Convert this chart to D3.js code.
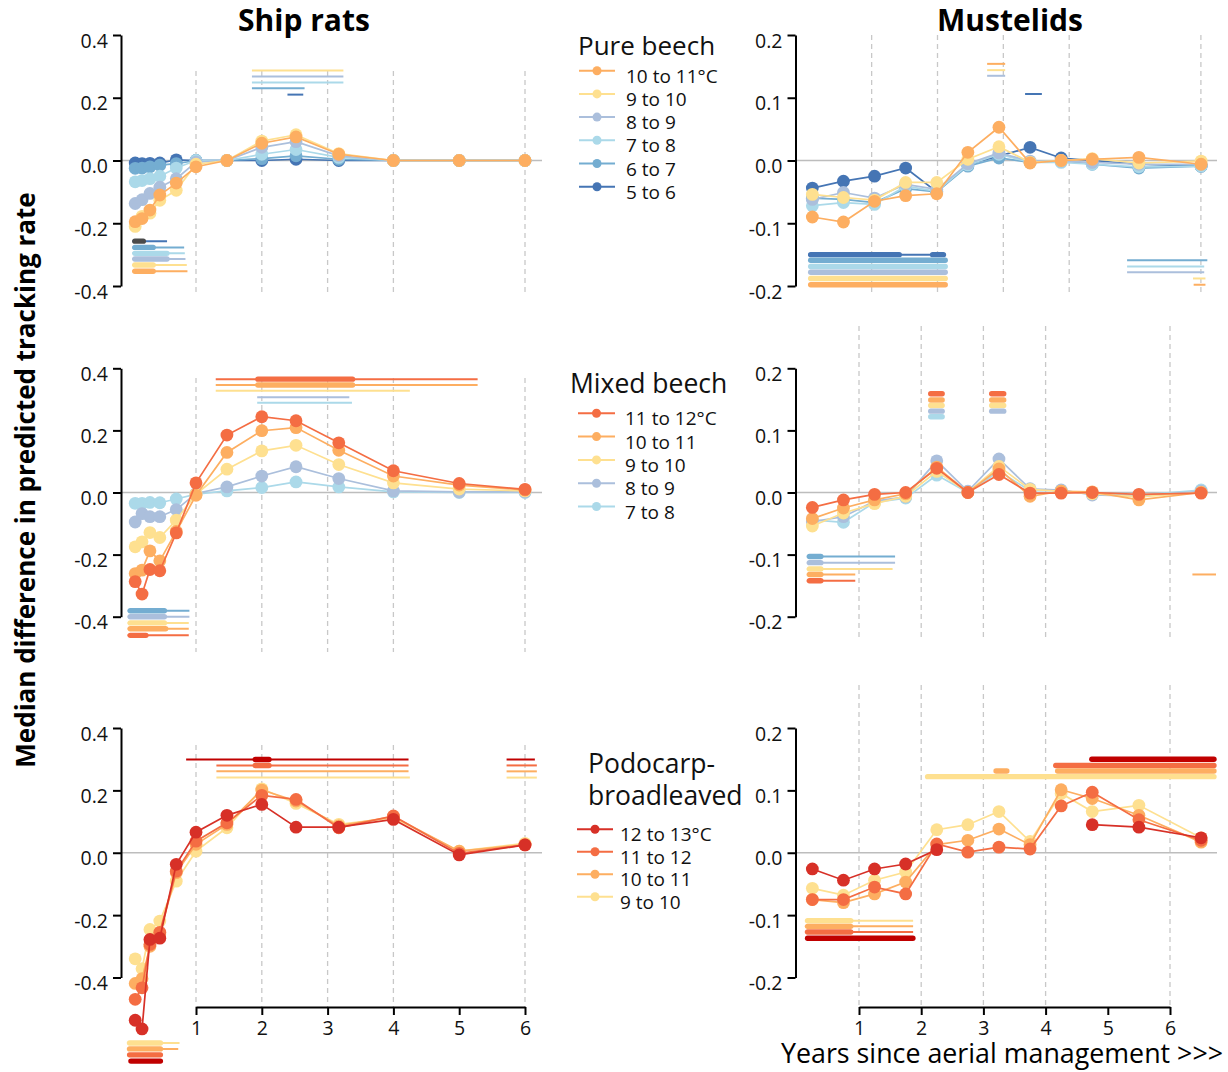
<!DOCTYPE html>
<html><head><meta charset="utf-8">
<script src="https://cdn.jsdelivr.net/npm/d3@7"></script>
<style>body{margin:0;background:#fff}</style></head>
<body><script>
// ---------------- DATA ----------------
const xLeft  = [0.076, 0.18, 0.30, 0.45, 0.70, 1.0, 1.47, 2.0, 2.52, 3.17, 4.0, 5.0, 6.0];
const xRight = [0.25, 0.75, 1.25, 1.75, 2.25, 2.75, 3.25, 3.75, 4.25, 4.75, 5.5, 6.5];
const xTickLabels = [1, 2, 3, 4, 5, 6];
const gridYears = [1, 2, 3, 4, 6];
const ratsTicks = [-0.4, -0.2, 0, 0.2, 0.4];
const mustTicks = [-0.2, -0.1, 0, 0.1, 0.2];

const colors = {
  "5 to 6": "#4575b4", "6 to 7": "#74add1", "7 to 8": "#abd9e9", "8 to 9": "#abbfdc",
  "9 to 10": "#fee090", "10 to 11": "#fdae61", "11 to 12": "#f46d43", "12 to 13": "#d73027",
  "dark": "#4a4a4a", "darkred": "#c00000"
};

const pureClasses  = ["5 to 6", "6 to 7", "7 to 8", "8 to 9", "9 to 10", "10 to 11"];
const mixedClasses = ["7 to 8", "8 to 9", "9 to 10", "10 to 11", "11 to 12"];
const podoClasses  = ["9 to 10", "10 to 11", "11 to 12", "12 to 13"];

// Ship rats - pure beech
const ratsPure = {
  "5 to 6":   [-0.008, -0.010, -0.009, -0.008, 0.002, 0.0, 0.0, 0.0, 0.004, 0.0, 0.0, 0.0, 0.0],
  "6 to 7":   [-0.025, -0.024, -0.020, -0.015, -0.010, 0.0, 0.0, 0.006, 0.015, 0.004, 0.0, 0.0, 0.0],
  "7 to 8":   [-0.068, -0.064, -0.058, -0.050, -0.024, 0.0, 0.0, 0.020, 0.035, 0.010, 0.0, 0.0, 0.0],
  "8 to 9":   [-0.137, -0.125, -0.105, -0.085, -0.058, -0.005, 0.0, 0.042, 0.060, 0.015, 0.0, 0.0, 0.0],
  "9 to 10":  [-0.210, -0.178, -0.168, -0.127, -0.095, -0.012, 0.0, 0.062, 0.082, 0.022, 0.0, 0.0, 0.0],
  "10 to 11": [-0.195, -0.185, -0.158, -0.110, -0.072, -0.020, 0.0, 0.055, 0.075, 0.020, 0.0, 0.0, 0.0]
};
// Ship rats - mixed beech
const ratsMixed = {
  "7 to 8":   [-0.035, -0.035, -0.032, -0.033, -0.021, -0.005, 0.005, 0.016, 0.034, 0.018, 0.002, 0.0, 0.0],
  "8 to 9":   [-0.095, -0.068, -0.078, -0.078, -0.055, -0.003, 0.018, 0.053, 0.083, 0.045, 0.005, 0.002, 0.002],
  "9 to 10":  [-0.175, -0.159, -0.129, -0.145, -0.089, -0.005, 0.075, 0.134, 0.152, 0.090, 0.031, 0.011, 0.005],
  "10 to 11": [-0.261, -0.250, -0.188, -0.220, -0.125, -0.009, 0.129, 0.199, 0.209, 0.136, 0.053, 0.024, 0.008],
  "11 to 12": [-0.287, -0.327, -0.248, -0.252, -0.130, 0.031, 0.185, 0.244, 0.231, 0.160, 0.070, 0.029, 0.010]
};
// Ship rats - podocarp-broadleaved
const ratsPodo = {
  "9 to 10":  [-0.340, -0.372, -0.246, -0.219, -0.091, 0.005, 0.080, 0.205, 0.158, 0.091, 0.112, 0.005, 0.030],
  "10 to 11": [-0.419, -0.404, -0.300, -0.260, -0.064, 0.027, 0.091, 0.201, 0.166, 0.086, 0.116, 0.005, 0.026],
  "11 to 12": [-0.470, -0.433, -0.294, -0.255, -0.059, 0.037, 0.096, 0.184, 0.171, 0.080, 0.118, -0.002, 0.025],
  "12 to 13": [-0.537, -0.565, -0.278, -0.274, -0.037, 0.066, 0.120, 0.155, 0.082, 0.082, 0.107, -0.007, 0.025]
};
// Mustelids - pure beech
const mustPure = {
  "5 to 6":   [-0.044, -0.033, -0.025, -0.012, -0.050, -0.006, 0.007, 0.021, 0.004, 0.0, -0.006, -0.009],
  "6 to 7":   [-0.060, -0.062, -0.067, -0.045, -0.050, -0.009, 0.004, -0.003, 0.0, -0.006, -0.012, -0.009],
  "7 to 8":   [-0.072, -0.067, -0.070, -0.041, -0.049, -0.007, 0.010, -0.003, -0.003, -0.006, -0.010, -0.009],
  "8 to 9":   [-0.062, -0.051, -0.060, -0.038, -0.046, -0.005, 0.012, -0.001, -0.001, -0.003, -0.006, -0.006],
  "9 to 10":  [-0.054, -0.059, -0.063, -0.035, -0.035, 0.002, 0.022, -0.003, 0.0, 0.003, -0.004, -0.001],
  "10 to 11": [-0.090, -0.098, -0.065, -0.056, -0.053, 0.013, 0.053, -0.004, 0.0, 0.002, 0.005, -0.006]
};
// Mustelids - mixed beech
const mustMixed = {
  "7 to 8":   [-0.044, -0.048, -0.016, -0.009, 0.028, 0.0, 0.034, 0.003, 0.003, -0.002, -0.004, 0.004],
  "8 to 9":   [-0.047, -0.039, -0.014, -0.007, 0.051, 0.002, 0.054, 0.006, 0.004, -0.004, -0.006, 0.002],
  "9 to 10":  [-0.054, -0.033, -0.018, -0.006, 0.034, 0.0, 0.042, 0.005, 0.002, -0.002, -0.007, 0.0],
  "10 to 11": [-0.042, -0.025, -0.012, -0.002, 0.041, 0.0, 0.038, -0.006, 0.002, 0.001, -0.012, 0.0],
  "11 to 12": [-0.024, -0.012, -0.003, 0.0, 0.039, 0.0, 0.029, -0.001, -0.001, 0.0, -0.003, -0.001]
};
// Mustelids - podocarp-broadleaved
const mustPodo = {
  "9 to 10":  [-0.057, -0.068, -0.044, -0.031, 0.037, 0.045, 0.066, 0.018, 0.095, 0.066, 0.076, 0.024],
  "10 to 11": [-0.075, -0.080, -0.066, -0.047, 0.013, 0.020, 0.038, 0.013, 0.101, 0.087, 0.060, 0.017],
  "11 to 12": [-0.075, -0.075, -0.055, -0.066, 0.014, 0.001, 0.009, 0.006, 0.075, 0.097, 0.053, 0.020],
  "12 to 13": [-0.026, -0.044, -0.026, -0.018, 0.005, null, null, null, null, 0.045, 0.041, 0.024]
};

// significance bars: [colour key, value, from year, to year, "thin"|"thick"]
const ratsPureBars = [
  ["9 to 10", 0.287, 1.85, 3.24, "thin"], ["8 to 9", 0.268, 1.85, 3.24, "thin"],
  ["7 to 8", 0.249, 1.85, 3.24, "thin"], ["6 to 7", 0.230, 1.85, 2.65, "thin"],
  ["5 to 6", 0.210, 2.39, 2.63, "thin"],
  ["5 to 6", -0.257, 0.03, 0.56, "thin"], ["dark", -0.257, 0.03, 0.24, "thick"],
  ["6 to 7", -0.277, 0.03, 0.82, "thin"], ["6 to 7", -0.277, 0.03, 0.39, "thick"],
  ["7 to 8", -0.296, 0.03, 0.83, "thin"], ["7 to 8", -0.296, 0.03, 0.60, "thick"],
  ["8 to 9", -0.314, 0.03, 0.84, "thin"], ["8 to 9", -0.314, 0.03, 0.60, "thick"],
  ["9 to 10", -0.333, 0.03, 0.86, "thin"], ["9 to 10", -0.333, 0.03, 0.39, "thick"],
  ["10 to 11", -0.353, 0.03, 0.87, "thin"], ["10 to 11", -0.353, 0.03, 0.39, "thick"]
];
const ratsMixedBars = [
  ["11 to 12", 0.365, 1.30, 5.28, "thin"], ["11 to 12", 0.365, 1.90, 3.42, "thick"],
  ["10 to 11", 0.346, 1.30, 5.28, "thin"], ["10 to 11", 0.346, 1.90, 3.42, "thick"],
  ["9 to 10", 0.328, 1.30, 4.25, "thin"],
  ["8 to 9", 0.307, 1.93, 3.33, "thin"], ["7 to 8", 0.289, 1.93, 3.37, "thin"],
  ["6 to 7", -0.381, -0.04, 0.90, "thin"], ["6 to 7", -0.381, -0.04, 0.56, "thick"],
  ["8 to 9", -0.400, -0.04, 0.90, "thin"], ["8 to 9", -0.400, -0.04, 0.56, "thick"],
  ["9 to 10", -0.420, -0.04, 0.89, "thin"], ["9 to 10", -0.420, -0.04, 0.56, "thick"],
  ["10 to 11", -0.439, -0.04, 0.89, "thin"], ["10 to 11", -0.439, -0.04, 0.58, "thick"],
  ["11 to 12", -0.460, -0.04, 0.89, "thin"], ["11 to 12", -0.460, -0.04, 0.28, "thick"]
];
const ratsPodoBars = [
  ["darkred", 0.299, 0.85, 4.23, "thin"], ["darkred", 0.299, 1.86, 2.15, "thick"],
  ["darkred", 0.299, 5.72, 6.15, "thin"],
  ["11 to 12", 0.280, 1.31, 4.23, "thin"], ["11 to 12", 0.280, 1.86, 2.15, "thick"],
  ["11 to 12", 0.280, 5.72, 6.18, "thin"],
  ["10 to 11", 0.261, 1.31, 4.23, "thin"], ["10 to 11", 0.261, 5.72, 6.18, "thin"],
  ["9 to 10", 0.241, 1.31, 4.25, "thin"], ["9 to 10", 0.241, 5.72, 6.18, "thin"],
  ["9 to 10", -0.610, -0.05, 0.75, "thin"], ["9 to 10", -0.610, -0.05, 0.50, "thick"],
  ["10 to 11", -0.629, -0.05, 0.73, "thin"], ["10 to 11", -0.629, -0.05, 0.50, "thick"],
  ["11 to 12", -0.648, -0.05, 0.50, "thick"],
  ["darkred", -0.668, -0.03, 0.50, "thick"]
];
const mustPureBars = [
  ["10 to 11", 0.154, 3.06, 3.35, "thin"], ["9 to 10", 0.144, 3.06, 3.35, "thin"],
  ["8 to 9", 0.135, 3.06, 3.35, "thin"], ["5 to 6", 0.106, 3.67, 3.94, "thin"],
  ["5 to 6", -0.150, 0.18, 2.40, "thin"], ["5 to 6", -0.150, 0.18, 1.69, "thick"],
  ["5 to 6", -0.150, 2.14, 2.40, "thick"],
  ["6 to 7", -0.159, 0.18, 2.43, "thick"], ["7 to 8", -0.169, 0.18, 2.43, "thick"],
  ["8 to 9", -0.178, 0.18, 2.43, "thick"], ["9 to 10", -0.188, 0.18, 2.43, "thick"],
  ["10 to 11", -0.198, 0.18, 2.43, "thick"],
  ["6 to 7", -0.159, 5.31, 6.60, "thin"], ["7 to 8", -0.169, 5.31, 6.55, "thin"],
  ["8 to 9", -0.178, 5.31, 6.55, "thin"], ["9 to 10", -0.188, 6.37, 6.57, "thin"],
  ["10 to 11", -0.198, 6.38, 6.57, "thin"]
];
const mustMixedBars = [
  ["11 to 12", 0.159, 2.11, 2.38, "thick"], ["11 to 12", 0.159, 3.09, 3.37, "thick"],
  ["10 to 11", 0.149, 2.11, 2.38, "thick"], ["10 to 11", 0.149, 3.09, 3.37, "thick"],
  ["9 to 10", 0.140, 2.11, 2.38, "thick"], ["9 to 10", 0.140, 3.09, 3.37, "thick"],
  ["8 to 9", 0.131, 2.11, 2.38, "thick"], ["8 to 9", 0.131, 3.09, 3.37, "thick"],
  ["7 to 8", 0.122, 2.11, 2.38, "thick"],
  ["6 to 7", -0.103, 0.16, 1.58, "thin"], ["6 to 7", -0.103, 0.16, 0.43, "thick"],
  ["8 to 9", -0.113, 0.16, 1.58, "thin"], ["8 to 9", -0.113, 0.16, 0.43, "thick"],
  ["9 to 10", -0.123, 0.16, 1.54, "thin"], ["9 to 10", -0.123, 0.16, 0.43, "thick"],
  ["10 to 11", -0.132, 0.16, 0.94, "thin"], ["10 to 11", -0.132, 0.16, 0.43, "thick"],
  ["11 to 12", -0.142, 0.16, 0.94, "thin"], ["11 to 12", -0.142, 0.16, 0.43, "thick"],
  ["10 to 11", -0.132, 6.36, 6.74, "thin"]
];
const mustPodoBars = [
  ["darkred", 0.150, 4.70, 6.75, "thick"], ["11 to 12", 0.140, 4.12, 6.75, "thick"],
  ["10 to 11", 0.131, 4.15, 6.75, "thick"], ["10 to 11", 0.131, 3.16, 3.42, "thick"],
  ["9 to 10", 0.122, 2.06, 6.75, "thick"],
  ["9 to 10", -0.109, 0.13, 1.87, "thin"], ["9 to 10", -0.109, 0.13, 0.91, "thick"],
  ["10 to 11", -0.118, 0.13, 1.87, "thin"], ["10 to 11", -0.118, 0.13, 0.91, "thick"],
  ["11 to 12", -0.127, 0.13, 1.87, "thin"], ["11 to 12", -0.127, 0.13, 0.91, "thick"],
  ["darkred", -0.137, 0.13, 1.91, "thick"]
];

const pureLegend  = ["10 to 11°C", "9 to 10", "8 to 9", "7 to 8", "6 to 7", "5 to 6"];
const mixedLegend = ["11 to 12°C", "10 to 11", "9 to 10", "8 to 9", "7 to 8"];
const podoLegend  = ["12 to 13°C", "11 to 12", "10 to 11", "9 to 10"];

// ---------------- DRAWING ----------------
const FONT = "'Open Sans', 'Noto Sans', sans-serif";
const svg = d3.select("body").append("svg").attr("width", 1228).attr("height", 1072)
  .style("font-family", FONT);

const xL = d3.scaleLinear().domain([0, 6]).range([130.2, 525]);
const xR = d3.scaleLinear().domain([0, 6]).range([796.8, 1170]);
const xRgridTop = d3.scaleLinear().domain([0, 6]).range([805.8, 1200.9]);
const rows = [[286, 35], [616.7, 368.3], [977.5, 728]];

function drawPanel(o) {
  const g = svg.append("g");
  const y = d3.scaleLinear().domain(o.domain).range(o.rows);
  g.selectAll("line.grid").data(gridYears).join("line")
    .attr("x1", d => o.gx(d)).attr("x2", d => o.gx(d))
    .attr("y1", o.gridY[0]).attr("y2", o.gridY[1])
    .attr("stroke", "#c8c8c8").attr("stroke-width", 1.3).attr("stroke-dasharray", "5,4");
  g.append("line").attr("x1", o.axisX).attr("x2", o.zeroEnd)
    .attr("y1", y(0)).attr("y2", y(0)).attr("stroke", "#bdbdbd").attr("stroke-width", 1.5);
  const ax = g.append("g").attr("transform", `translate(${o.axisX},0)`)
    .call(d3.axisLeft(y).tickValues(o.ticks).tickFormat(d => d.toFixed(1)).tickSize(8).tickSizeOuter(0));
  ax.select(".domain").attr("stroke", "#000").attr("stroke-width", 2);
  ax.selectAll(".tick line").attr("stroke", "#000").attr("stroke-width", 2);
  ax.selectAll(".tick text").attr("font-size", 19.5).attr("font-family", FONT)
    .attr("fill", "#111").attr("dy", "0.62em").attr("x", -13);
  g.selectAll("line.bar").data(o.bars).join("line")
    .attr("x1", d => o.x(d[2]) + (d[4] === "thick" ? 2.7 : 0))
    .attr("x2", d => o.x(d[3]) - (d[4] === "thick" ? 2.7 : 0))
    .attr("y1", d => y(d[1])).attr("y2", d => y(d[1]))
    .attr("stroke", d => colors[d[0]])
    .attr("stroke-width", d => d[4] === "thick" ? 5.4 : 2)
    .attr("stroke-linecap", d => d[4] === "thick" ? "round" : "butt");
  o.classes.forEach(k => {
    const vals = o.data[k];
    const pts = vals.map((v, i) => ({x: o.xs[i], v}));
    const line = d3.line().defined(d => d.v !== null).x(d => o.x(d.x)).y(d => y(d.v));
    g.append("path").attr("d", line(pts)).attr("fill", "none")
      .attr("stroke", colors[k]).attr("stroke-width", 1.7);
    g.selectAll(null).data(pts.filter(d => d.v !== null)).join("circle")
      .attr("cx", d => o.x(d.x)).attr("cy", d => y(d.v)).attr("r", 6.4)
      .attr("fill", colors[k]);
  });
  return y;
}

drawPanel({x: xL, gx: xL, xs: xLeft, domain: [-0.4, 0.4], rows: rows[0], ticks: ratsTicks,
  axisX: 121, zeroEnd: 542, gridY: [71, 295], data: ratsPure, classes: pureClasses, bars: ratsPureBars});
drawPanel({x: xL, gx: xL, xs: xLeft, domain: [-0.4, 0.4], rows: rows[1], ticks: ratsTicks,
  axisX: 121, zeroEnd: 542, gridY: [378, 652], data: ratsMixed, classes: mixedClasses, bars: ratsMixedBars});
drawPanel({x: xL, gx: xL, xs: xLeft, domain: [-0.4, 0.4], rows: rows[2], ticks: ratsTicks,
  axisX: 121, zeroEnd: 542, gridY: [745, 1007], data: ratsPodo, classes: podoClasses, bars: ratsPodoBars});
drawPanel({x: xR, gx: xRgridTop, xs: xRight, domain: [-0.2, 0.2], rows: rows[0], ticks: mustTicks,
  axisX: 795.5, zeroEnd: 1217, gridY: [35, 295], data: mustPure, classes: pureClasses, bars: mustPureBars});
drawPanel({x: xR, gx: xR, xs: xRight, domain: [-0.2, 0.2], rows: rows[1], ticks: mustTicks,
  axisX: 795.5, zeroEnd: 1217, gridY: [326, 640], data: mustMixed, classes: mixedClasses, bars: mustMixedBars});
drawPanel({x: xR, gx: xR, xs: xRight, domain: [-0.2, 0.2], rows: rows[2], ticks: mustTicks,
  axisX: 795.5, zeroEnd: 1217, gridY: [685, 1007], data: mustPodo, classes: podoClasses, bars: mustPodoBars});

function bottomAxis(x, yPos) {
  const s = d3.scaleLinear().domain([1, 6]).range([x(1), x(6)]);
  const ax = svg.append("g").attr("transform", `translate(0,${yPos})`)
    .call(d3.axisBottom(s).tickValues(xTickLabels).tickFormat(d3.format("d")).tickSize(8).tickSizeOuter(0).tickPadding(6));
  ax.select(".domain").attr("stroke", "#000").attr("stroke-width", 2);
  ax.selectAll(".tick line").attr("stroke", "#000").attr("stroke-width", 2);
  ax.selectAll(".tick text").attr("font-size", 19.5).attr("font-family", FONT).attr("fill", "#111");
}
bottomAxis(xL, 1007);
bottomAxis(xR, 1007);

svg.append("text").attr("x", 304).attr("y", 31).attr("text-anchor", "middle")
  .attr("font-weight", "bold").attr("font-size", 30).text("Ship rats");
svg.append("text").attr("x", 1010).attr("y", 31).attr("text-anchor", "middle")
  .attr("font-weight", "bold").attr("font-size", 30).text("Mustelids");
svg.append("text").attr("transform", "translate(35,480) rotate(-90)").attr("text-anchor", "middle")
  .attr("font-weight", "bold").attr("font-size", 26).text("Median difference in predicted tracking rate");
svg.append("text").attr("x", 781).attr("y", 1063).attr("font-size", 26.8)
  .text("Years since aerial management >>>");

function legend(o) {
  const g = svg.append("g");
  o.title.forEach((t, i) => g.append("text").attr("x", o.tx).attr("y", o.ty + i * 32)
    .attr("font-size", o.ts).attr("fill", "#111").text(t));
  o.labels.forEach((lab, i) => {
    const yy = o.y0 + i * o.step;
    const c = colors[o.keys[i]];
    g.append("line").attr("x1", o.lx0).attr("x2", o.lx1).attr("y1", yy).attr("y2", yy)
      .attr("stroke", c).attr("stroke-width", 2);
    g.append("circle").attr("cx", (o.lx0 + o.lx1) / 2).attr("cy", yy).attr("r", 4.5).attr("fill", c);
    g.append("text").attr("x", o.lt).attr("y", yy + 5).attr("dominant-baseline", "central")
      .attr("font-size", 19).attr("fill", "#111").text(lab);
  });
}
legend({title: ["Pure beech"], tx: 578, ty: 55, ts: 26, labels: pureLegend, keys: pureClasses.slice().reverse(),
  y0: 70.7, step: 23.2, lx0: 579, lx1: 615, lt: 626});
legend({title: ["Mixed beech"], tx: 570, ty: 393, ts: 26.5, labels: mixedLegend, keys: mixedClasses.slice().reverse(),
  y0: 413.3, step: 23.3, lx0: 578, lx1: 615, lt: 625});
legend({title: ["Podocarp-", "broadleaved"], tx: 588, ty: 773, ts: 26.5, labels: podoLegend, keys: podoClasses.slice().reverse(),
  y0: 829.3, step: 22.5, lx0: 577, lx1: 613, lt: 620});
</script></body></html>
